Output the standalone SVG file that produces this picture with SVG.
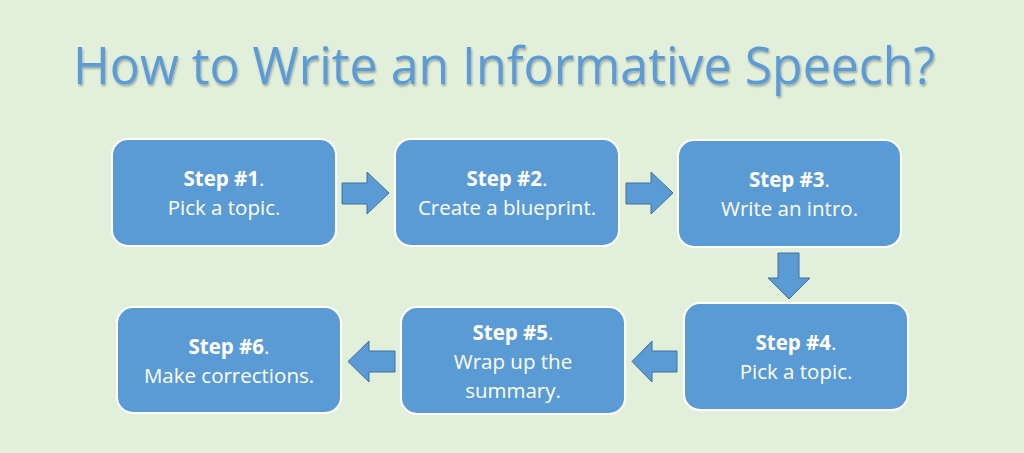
<svg xmlns="http://www.w3.org/2000/svg" width="1024" height="453" viewBox="0 0 1024 453">
  <defs>
    <style>
      .box { fill: #5b9bd5; stroke: #ffffff; stroke-width: 2; }
      .arrow { fill: #5b9bd5; stroke: #41719c; stroke-width: 1; }
      .lbl { font-family: "Open Sans", "Liberation Sans", sans-serif; font-size: 20.5px; fill: #ffffff; text-anchor: middle; }
      .b { font-weight: bold; }
      .title { font-family: "Open Sans", "Liberation Sans", sans-serif; font-size: 51px; fill: #5b9bd5; }
    </style>
    <filter id="shadow" x="-5%" y="-20%" width="110%" height="150%">
      <feGaussianBlur in="SourceAlpha" stdDeviation="1.2"/>
      <feOffset dx="1" dy="2" result="o"/>
      <feComponentTransfer><feFuncA type="linear" slope="0.3"/></feComponentTransfer>
      <feMerge><feMergeNode/><feMergeNode in="SourceGraphic"/></feMerge>
    </filter>
  </defs>
  <rect x="0" y="0" width="1024" height="453" fill="#e2efda"/>
  <text class="title" x="73" y="84" textLength="862" lengthAdjust="spacingAndGlyphs" filter="url(#shadow)">How to Write an Informative Speech?</text>

  <g id="connectors">
    <polygon class="arrow" points="342,183 367,183 367,172 389,193 367,214 367,204 342,204"/>
    <polygon class="arrow" points="626,183 651,183 651,172 673,193 651,214 651,204 626,204"/>
    <polygon class="arrow" points="778,253 799,253 799,278 810,278 789,299 768,278 778,278"/>
    <polygon class="arrow" points="677,351 652,351 652,341 632,361.5 652,382 652,372 677,372"/>
    <polygon class="arrow" points="395,351 369,351 369,341 348,361.5 369,382 369,372 395,372"/>
  </g>

  <g id="step1">
    <rect class="box" x="112" y="139" width="224" height="107" rx="16"/>
    <text class="lbl" x="224" y="186"><tspan class="b">Step #1</tspan>.</text>
    <text class="lbl" x="224" y="215">Pick a topic.</text>
  </g>
  <g id="step2">
    <rect class="box" x="395" y="139" width="224" height="107" rx="16"/>
    <text class="lbl" x="507" y="186"><tspan class="b">Step #2</tspan>.</text>
    <text class="lbl" x="507" y="215">Create a blueprint.</text>
  </g>
  <g id="step3">
    <rect class="box" x="678" y="140" width="223" height="107" rx="16"/>
    <text class="lbl" x="789.5" y="186.5"><tspan class="b">Step #3</tspan>.</text>
    <text class="lbl" x="789.5" y="215.5">Write an intro.</text>
  </g>
  <g id="step4">
    <rect class="box" x="684" y="303" width="224" height="107" rx="16"/>
    <text class="lbl" x="796" y="350"><tspan class="b">Step #4</tspan>.</text>
    <text class="lbl" x="796" y="379">Pick a topic.</text>
  </g>
  <g id="step5">
    <rect class="box" x="401" y="307" width="224" height="107" rx="16"/>
    <text class="lbl" x="513" y="340"><tspan class="b">Step #5</tspan>.</text>
    <text class="lbl" x="513" y="369">Wrap up the</text>
    <text class="lbl" x="513" y="398">summary.</text>
  </g>
  <g id="step6">
    <rect class="box" x="117" y="307" width="224" height="106" rx="16"/>
    <text class="lbl" x="229" y="353.5"><tspan class="b">Step #6</tspan>.</text>
    <text class="lbl" x="229" y="382.5">Make corrections.</text>
  </g>
</svg>
